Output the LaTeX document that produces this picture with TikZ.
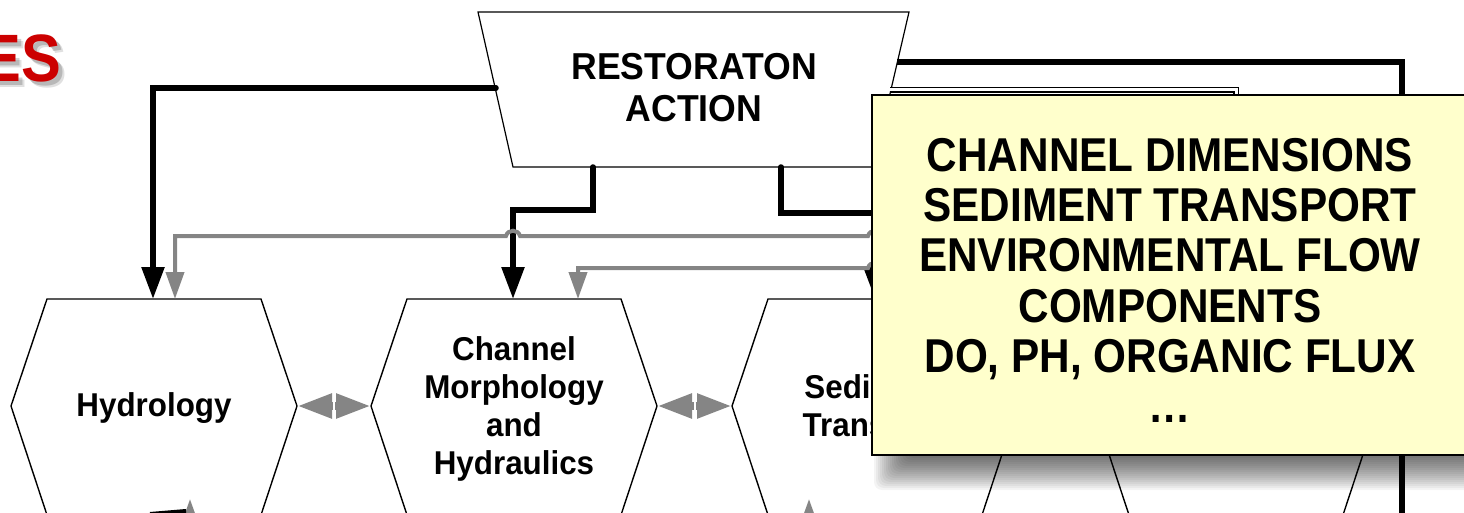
\documentclass[tikz,border=0pt]{standalone}
\usepackage{fontspec}
\setmainfont{Liberation Sans}
\newfontfamily\hexfont[FakeStretch=0.95]{Liberation Sans}
\newfontfamily\boxfont[FakeStretch=0.89]{Liberation Sans}
\usetikzlibrary{arrows.meta}
\definecolor{titlered}{HTML}{CC0000}
\definecolor{linkgray}{HTML}{858585}
\definecolor{noteyellow}{HTML}{FFFFCC}
\newcommand\hexshape[1]{\draw[hexline] (#1-143,406) -- (#1-107,299) -- (#1+107,299) -- (#1+143,406) -- (#1+107,515) -- (#1-107,515) -- cycle;}
\begin{document}
\begin{tikzpicture}[x=1pt,y=-1pt,
  hexline/.style={draw=black,line width=1.4pt,fill=white,line join=miter},
  hextext/.style={font=\hexfont\bfseries\fontsize{33}{38}\selectfont,align=center,inner sep=0pt},
  traptext/.style={font=\hexfont\bfseries\fontsize{37.5}{42}\selectfont,align=center,inner sep=0pt},
  notetext/.style={font=\boxfont\bfseries\fontsize{47.5}{50.2}\selectfont,align=center,inner sep=0pt},
  titletext/.style={font=\boxfont\bfseries\fontsize{67}{70}\selectfont,inner sep=0pt,anchor=base east},
  blackline/.style={draw=black,line width=5.5pt,line cap=round},
  blackconn/.style={blackline,-{Triangle[length=32pt,width=22pt]}},
  dblline/.style={draw=black,line width=1.8pt,double=white,double distance=3pt},
  grayline/.style={draw=linkgray,line width=4pt},
  grayconn/.style={grayline,-{Triangle[length=27pt,width=18pt]}},
  grayduo/.style={draw=linkgray,line width=8pt,-{Triangle[length=35pt,width=23pt]}}
]
\useasboundingbox (0,0) rectangle (1464,513);

% heading fragment with soft shadow
\node[titletext,text=black,opacity=0.18] (esh1) at (65,86) {ES};
\node[titletext,text=black,opacity=0.12] (esh2) at (67,88) {ES};
\node[titletext,text=titlered] (title) at (61,82) {ES};

% hexagons
\hexshape{154}
\hexshape{514}
\hexshape{875}
\hexshape{1236}
\node[hextext,anchor=base] (hyd) at (154,416) {Hydrology};
\node[hextext] (chm) at (514,408.5) {Channel\\Morphology\\and\\Hydraulics};
\node[hextext] (sed) at (875,408.5) {Sediment\\Transport};

% hexagon anchors
\coordinate (hyd-t1) at (153,299);
\coordinate (hyd-t2) at (175,299);
\coordinate (hyd-r) at (297,406);
\coordinate (chm-t1) at (513,299);
\coordinate (chm-t2) at (578,299);
\coordinate (chm-l) at (371,406);
\coordinate (chm-r) at (657,406);
\coordinate (sed-l) at (732,406);
\coordinate (sed-t1) at (875,299);
\coordinate (h4-t1) at (1236,299);
\coordinate (hyd-b) at (190,499);
\coordinate (sed-b) at (809,499);

% restoration action trapezoid
\draw[draw=black,line width=1.2pt,fill=white] (478,12) -- (909,12) -- (873,167) -- (513,167) -- cycle;
\node[traptext] (ra) at (694,87.5) {RESTORATON\\ACTION};
\coordinate (ra-l) at (496,88);
\coordinate (ra-b1) at (593,167);
\coordinate (ra-b2) at (781,167);
\coordinate (ra-r1) at (897,62);
\coordinate (ra-r2) at (890,90);
\coordinate (out1) at (1402,540);

% black connectors
\draw[blackconn] (ra-l) -| (hyd-t1);
\draw[blackconn] (ra-b1) -- ++(0,43) -| (chm-t1);
\draw[blackconn] (ra-b2) -- ++(0,46) -| (sed-t1);
\draw[blackline,line cap=butt] (ra-r1) -| (out1);
\draw[dblline] (ra-r2) -| (h4-t1);

% gray feedback connectors
\coordinate (g1s) at (1000,236);
\coordinate (g2s) at (1000,268);
\draw[grayconn] (g1s) -- (882,236) .. controls (880,229) and (870,229) .. (868,236)
  -- (520,236) .. controls (518,229) and (508,229) .. (506,236) -- (175,236) -- (hyd-t2);
\draw[grayconn] (g2s) -- (882,268) .. controls (880,261) and (870,261) .. (868,268)
  -- (578,268) -- (chm-t2);

% two-way links between hexagons
\coordinate (m12) at (334,406);
\coordinate (m23) at (694.5,406);
\draw[grayduo] ([xshift=-1pt]m12) -- (hyd-r);
\draw[grayduo] ([xshift=1pt]m12) -- (chm-l);
\draw[grayduo] ([xshift=-1pt]m23) -- (chm-r);
\draw[grayduo] ([xshift=1pt]m23) -- (sed-l);

% links entering from below
\coordinate (below1) at (190,545);
\coordinate (below2) at (809,545);
\draw[grayconn] (below1) -- (hyd-b);
\draw[grayconn] (below2) -- (sed-b);
\coordinate (bl1) at (150,514);
\coordinate (bl2) at (186,511);
\draw[draw=black,line width=4pt] (bl1) -- (bl2);

% note box with blurred shadow
\foreach \e in {-16,-14,...,16}
  \fill[black,opacity=0.045,rounded corners=8pt] (890-\e,115-\e) rectangle (1490+\e,474+\e);
\draw[draw=black,line width=2pt,fill=noteyellow] (872,95) rectangle (1475,455);
\node[notetext] (note) at (1170,280.5) {CHANNEL DIMENSIONS\\SEDIMENT TRANSPORT\\ENVIRONMENTAL FLOW\\COMPONENTS\\DO, PH, ORGANIC FLUX\\\dots};
\end{tikzpicture}
\end{document}
